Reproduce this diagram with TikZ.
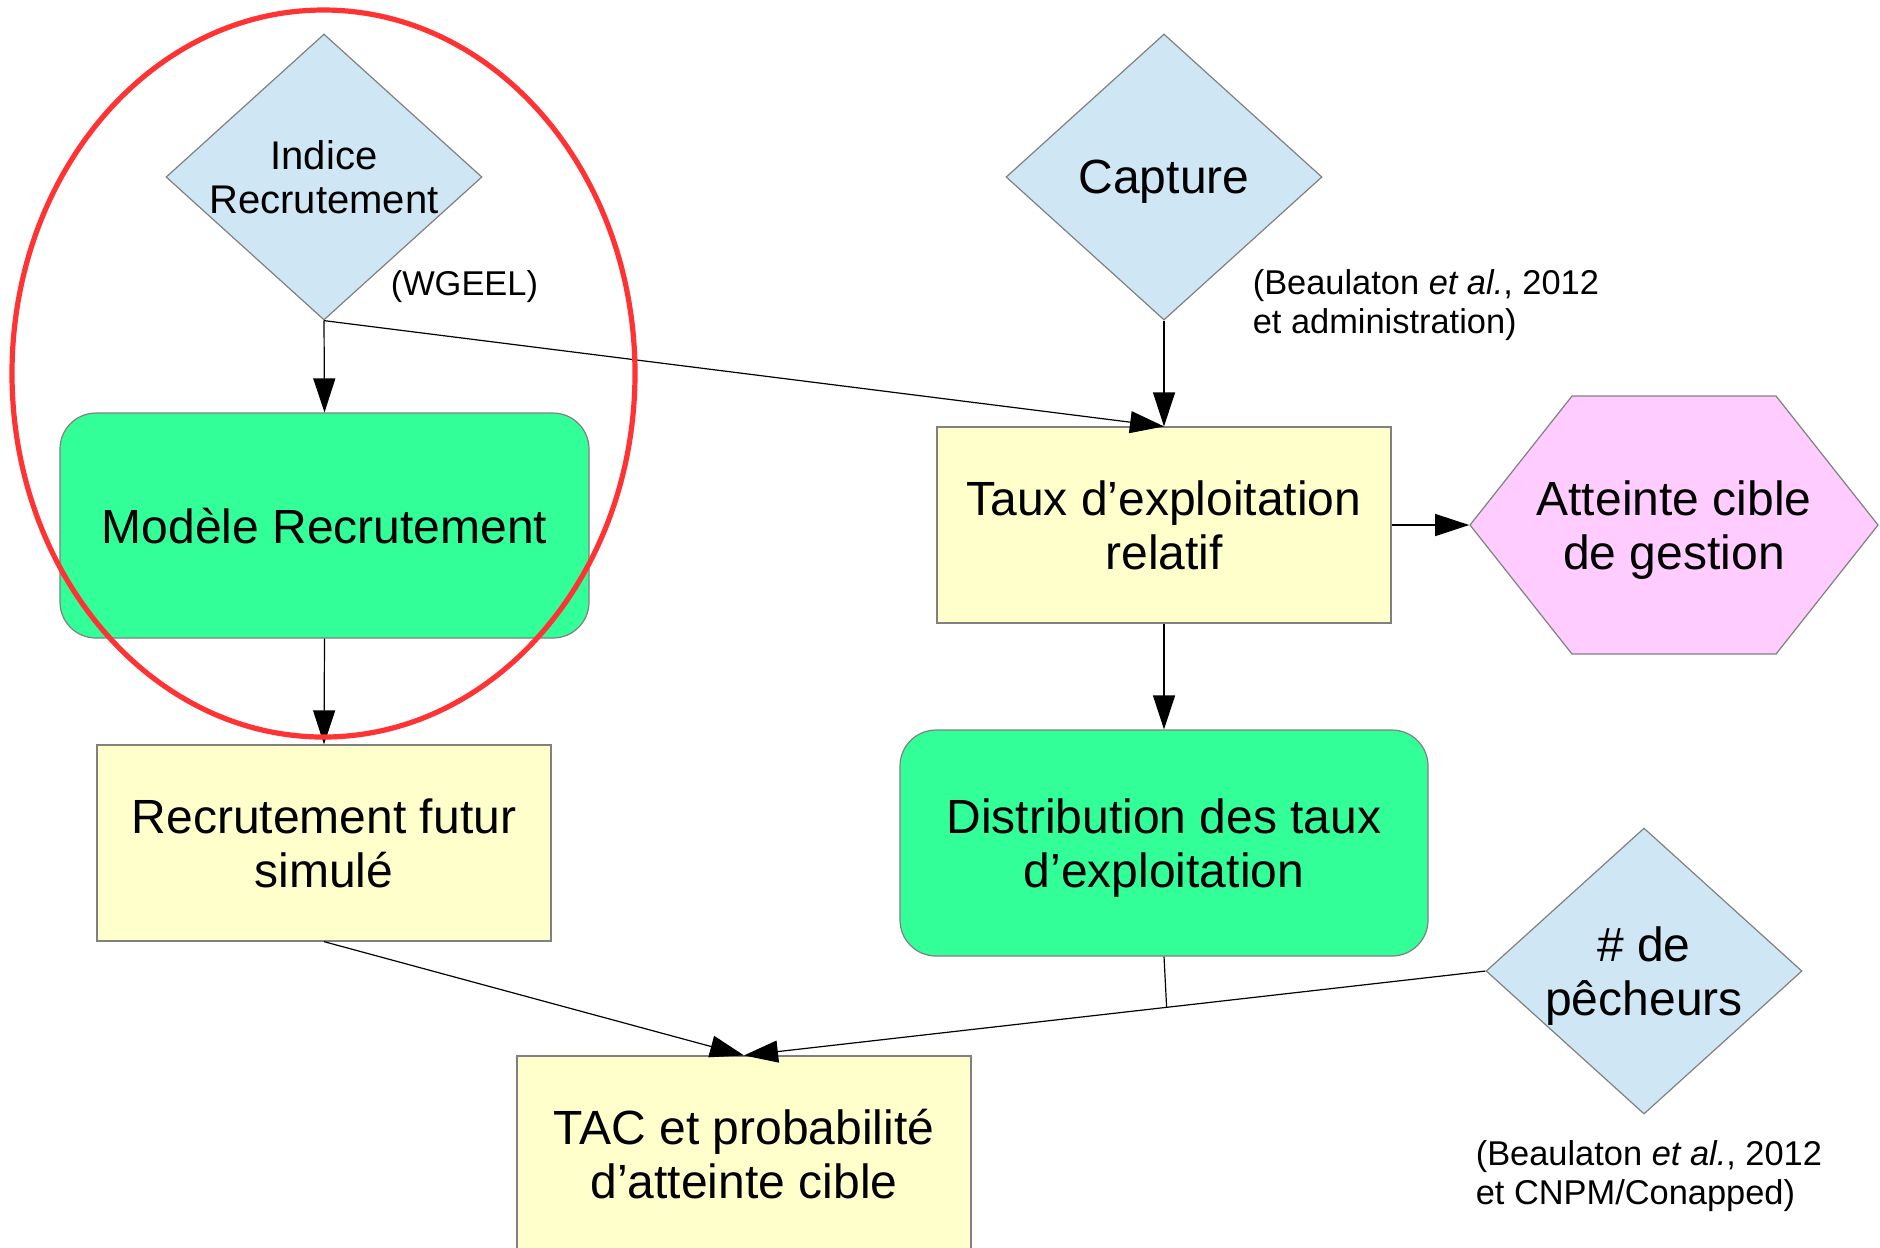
\documentclass[tikz,border=0pt]{standalone}
\usepackage{fontspec}
\setmainfont{Liberation Sans}
\usetikzlibrary{shapes.geometric,arrows.meta,calc}
\newcommand{\policegrande}{\fontsize{12}{13.5}\selectfont}
\newcommand{\policemoy}{\fontsize{10}{11}\selectfont}
\newcommand{\policepetite}{\fontsize{8.6}{9.75}\selectfont}
\begin{document}
\begin{tikzpicture}[x=0.25pt,y=0.25pt,yscale=-1,
  donnee/.style={diamond, draw={rgb, 255:red, 128; green, 128; blue, 128}, line width=0.3pt, fill={rgb, 255:red, 207; green, 231; blue, 245}, inner sep=0pt, text depth=0pt, aspect=1.1, minimum width=79pt, minimum height=71.5pt, align=center},
  modele/.style={rectangle, rounded corners=9pt, draw={rgb, 255:red, 128; green, 128; blue, 128}, line width=0.3pt, fill={rgb, 255:red, 51; green, 255; blue, 153}, inner sep=0pt, text depth=0pt, minimum width=132pt, minimum height=56.5pt, align=center, font=\policegrande},
  sortie/.style={rectangle, draw={rgb, 255:red, 128; green, 128; blue, 128}, line width=0.3pt, fill={rgb, 255:red, 255; green, 255; blue, 204}, inner sep=0pt, text depth=0pt, minimum width=113.5pt, minimum height=49pt, align=center, font=\policegrande},
  source/.style={anchor=west, inner sep=0pt, text depth=0pt, align=left, font=\policepetite},
  fleche/.style={-{Triangle[length=8.5pt,width=5.5pt]}, line width=0.3pt},
]
\path[use as bounding box, fill=white] (0,0) rectangle (1880,1247);

%Shape: Diamond [indice]
\node[donnee, font=\policemoy] (indice) at (324,177) {Indice\\Recrutement};
%Shape: Diamond [capture]
\node[donnee, font=\policegrande] (capture) at (1164,177) {Capture};
%Shape: Diamond [peche]
\node[donnee, font=\policegrande] (peche) at (1644,971) {\# de\\pêcheurs};

%Shape: Rounded Rect [modele]
\node[modele, minimum width=132.25pt, minimum height=56.25pt] (modele) at (324.5,525.5) {Modèle Recrutement};
%Shape: Rounded Rect [distrib]
\node[modele] (distrib) at (1164,843) {Distribution des taux\\d’exploitation};

%Shape: Rectangle [taux]
\node[sortie] (taux) at (1164,525) {Taux d’exploitation\\relatif};
%Shape: Rectangle [recfutur]
\node[sortie] (recfutur) at (324,843) {Recrutement futur\\simulé};
%Shape: Rectangle [tac]
\node[sortie] (tac) at (744,1154) {TAC et probabilité\\d’atteinte cible};

%Shape: Hexagon [atteinte]
\coordinate (catteinte) at (1674,525);
\draw[draw={rgb, 255:red, 128; green, 128; blue, 128}, line width=0.3pt, fill={rgb, 255:red, 255; green, 204; blue, 255}] ($(catteinte)+(-204,0)$) -- ($(catteinte)+(-102,-129)$) -- ($(catteinte)+(102,-129)$) -- ($(catteinte)+(204,0)$) -- ($(catteinte)+(102,129)$) -- ($(catteinte)+(-102,129)$) -- cycle;
\node[inner sep=0pt, text depth=0pt, minimum width=102pt, minimum height=64.5pt, align=center, font=\policegrande] (atteinte) at (catteinte) {Atteinte cible\\de gestion};

% Text Node
\node[source] (wgeel) at (390,283) {(WGEEL)};
% Text Node
\node[source] (refcapture) at (1252,302) {(Beaulaton \textit{et al.}, 2012\\et administration)};
% Text Node
\node[source] (refpeche) at (1475,1172) {(Beaulaton \textit{et al.}, 2012\\et CNPM/Conapped)};

%Straight Lines
\draw[fleche] (indice.south) -- (modele.north);
\draw[fleche] (indice.south) -- (taux.north);
\draw[fleche] (capture.south) -- (taux.north);
\draw[fleche] (modele.south) -- (recfutur.north);
\draw[fleche] (taux.south) -- (distrib.north);
\draw[fleche] (taux.east) -- (atteinte.west);
\draw[fleche] (recfutur.south) -- (tac.north);
\coordinate (jonction) at ($(peche.west)!0.43!(tac.north)$);
\draw[line width=0.3pt] (distrib.south) -- (jonction);
\draw[fleche] (peche.west) -- (tac.north);

%Shape: Ellipse
\draw[color={rgb, 255:red, 255; green, 51; blue, 51}, line width=1.3pt] (323.5,373.5) ellipse (311.5 and 363.5);

\end{tikzpicture}
\end{document}
